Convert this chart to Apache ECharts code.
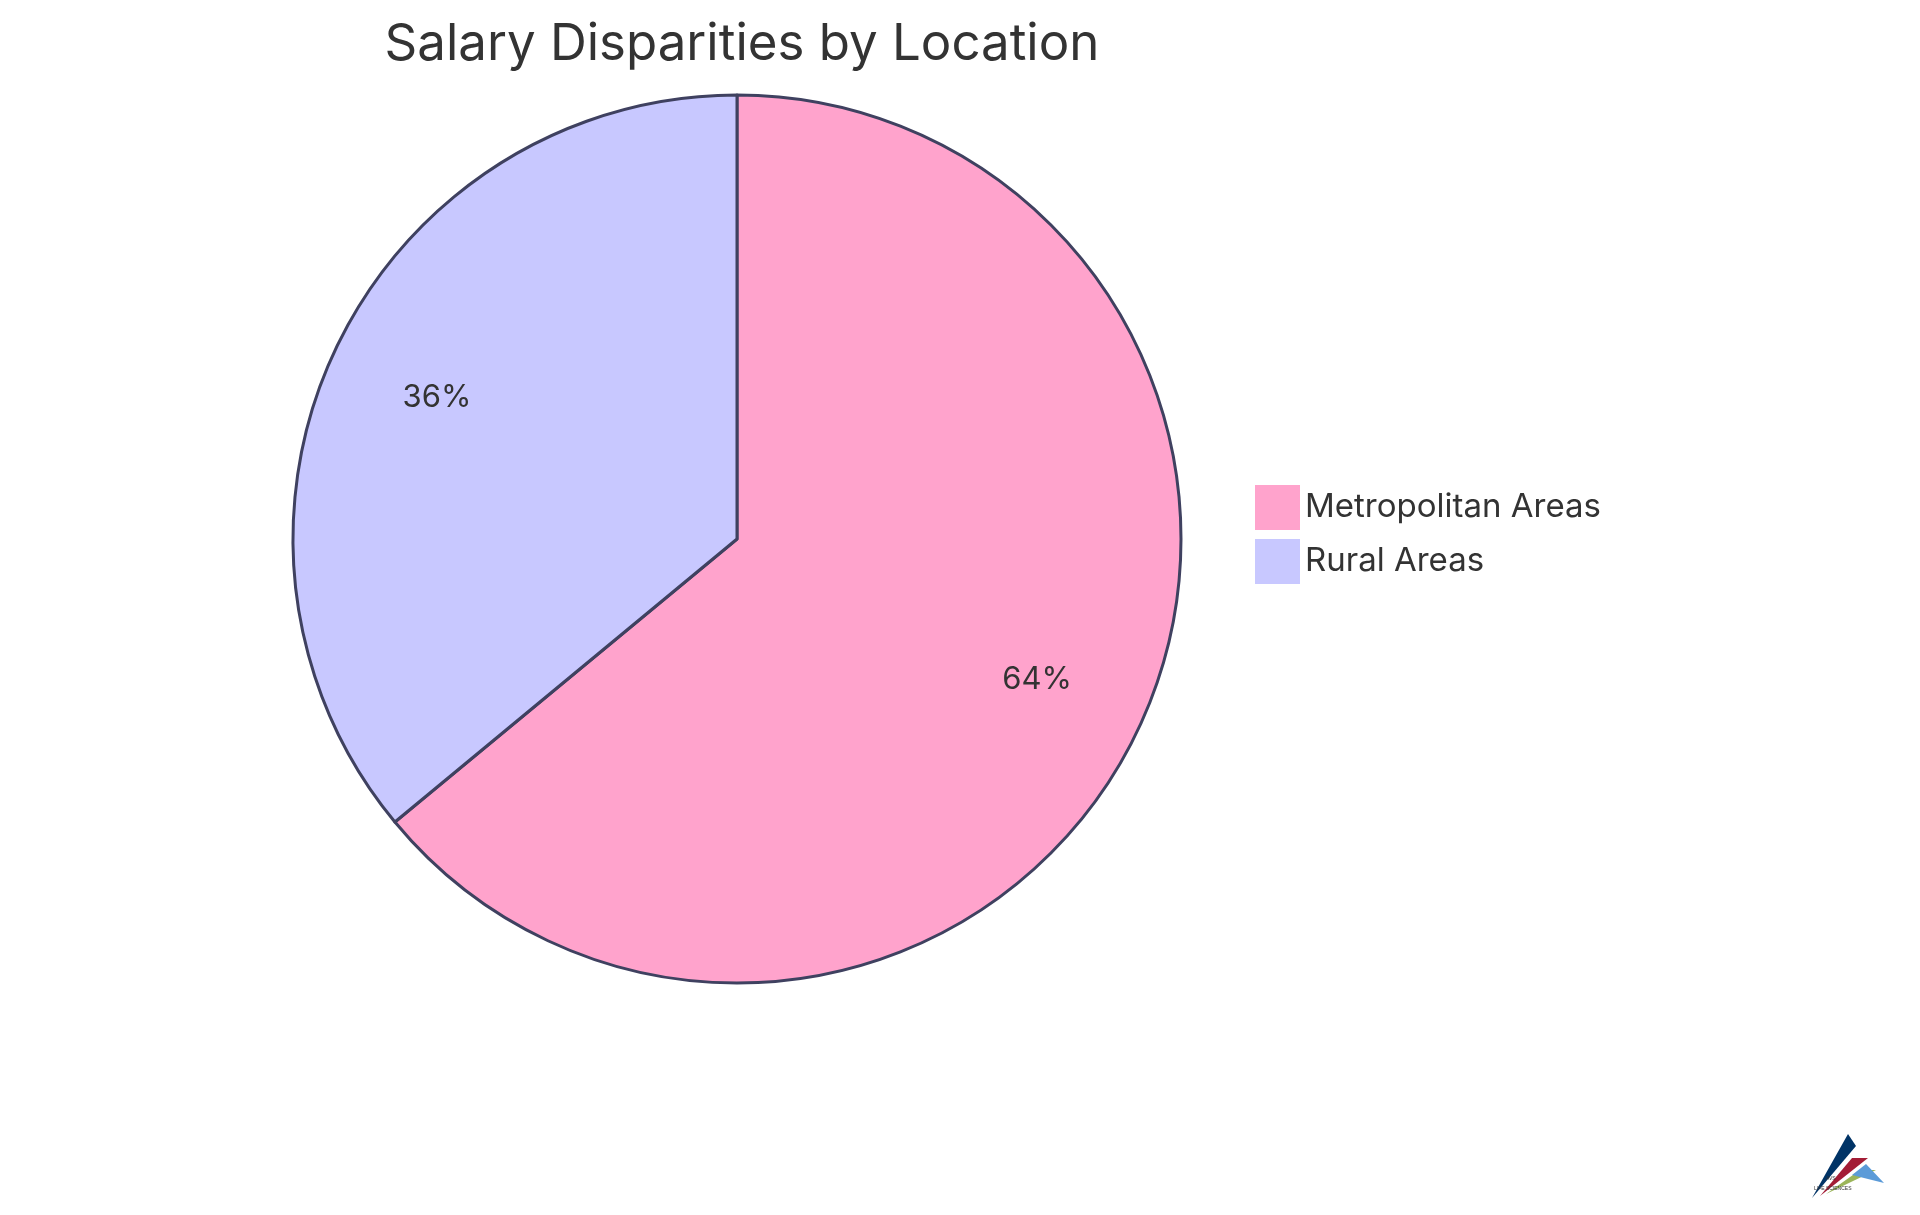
<!DOCTYPE html>
<html>
<head>
<meta charset="utf-8">
<script src="https://cdn.jsdelivr.net/npm/echarts@6/dist/echarts.min.js"></script>
<style>
html, body { margin: 0; padding: 0; background: #fff; }
#chart { width: 1920px; height: 1215px; }
</style>
</head>
<body>
<div id="chart"></div>
<script>
const categories = ["Metropolitan Areas", "Rural Areas"];
const shares = [64, 36];
const colors = ["#FFA3CC", "#C8C8FF"];

const pieData = categories.map(function (name, i) {
    return {name: name, value: shares[i], itemStyle: {color: colors[i]}};
});

const cx = 737, cy = 539, r = 444;

const chart = echarts.init(document.getElementById("chart"));
chart.setOption({
    animation: false,
    textStyle: {fontFamily: "Inter"},
    title: {
        text: "Salary Disparities by Location",
        left: cx, top: 14, textAlign: "center",
        textStyle: {fontSize: 51, fontWeight: "normal", color: "#333"}
    },
    legend: {
        orient: "vertical",
        left: 1250, top: 480,
        itemWidth: 45, itemHeight: 45, itemGap: 9,
        icon: "rect",
        itemStyle: {borderWidth: 0},
        textStyle: {fontSize: 33, color: "#333", padding: [0, 0, 0, 0]},
        data: categories
    },
    series: [
        {
            type: "pie",
            z: 2,
            center: [cx, cy],
            radius: [0, r],
            startAngle: 90,
            label: {show: false},
            labelLine: {show: false},
            itemStyle: {borderColor: "#3f4160", borderWidth: 3},
            emphasis: {disabled: true},
            data: pieData
        },
        {
            type: "pie",
            z: 3,
            center: [cx, cy],
            radius: [r * 0.48, r],
            startAngle: 90,
            silent: true,
            itemStyle: {opacity: 0},
            label: {
                show: true, position: "inside", opacity: 1,
                formatter: "{c}%", fontSize: 31, color: "#333"
            },
            labelLine: {show: false},
            legendHoverLink: false,
            data: pieData.map(function (d) { return {name: d.name + " label", value: d.value}; })
        }
    ],
    graphic: [
        {type: "polygon", shape: {points: [[1812, 1198], [1848, 1134], [1856, 1146]]}, style: {fill: "#003366"}},
        {type: "polygon", shape: {points: [[1820, 1196], [1852, 1158], [1868, 1158]]}, style: {fill: "#a31c35"}},
        {type: "polygon", shape: {points: [[1826, 1194], [1860, 1170], [1876, 1170]]}, style: {fill: "#9bb55a"}},
        {type: "polygon", shape: {points: [[1852, 1175], [1866, 1164], [1884, 1183]]}, style: {fill: "#5b9bd8"}},
        {type: "text", left: 1826, top: 1176, style: {text: "AVS", fontSize: 5, fill: "#333"}},
        {type: "text", left: 1814, top: 1186, style: {text: "LIFE SCIENCES", fontSize: 5, fill: "#333"}}
    ]
});
</script>
</body>
</html>
